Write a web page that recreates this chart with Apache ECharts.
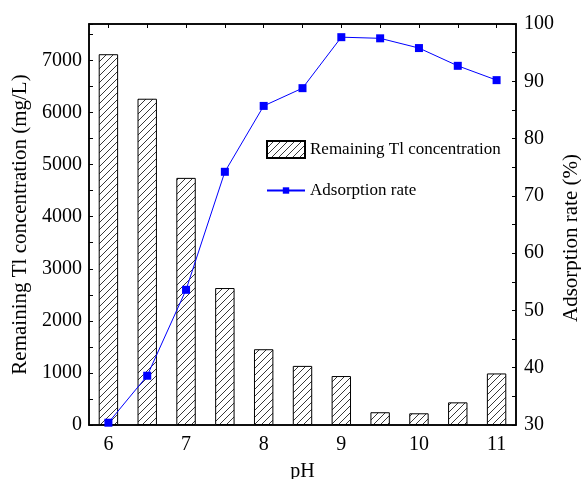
<!DOCTYPE html>
<html>
<head>
<meta charset="utf-8">
<script src="https://cdn.jsdelivr.net/npm/echarts@6/dist/echarts.min.js"></script>
<style>html,body{margin:0;padding:0;background:#fff;}#c{width:581px;height:479px;}</style>
</head>
<body>
<div id="c"></div>
<script>
var phLabels = ['6','6.5','7','7.5','8','8.5','9','9.5','10','10.5','11'];
var remainingTl = [7120, 6265, 4745, 2630, 1455, 1135, 940, 245, 225, 435, 990];
var adsorptionRate = [30.4, 38.6, 53.6, 74.2, 85.7, 88.8, 97.7, 97.5, 95.8, 92.7, 90.2];
var leftTicks = [0, 1000, 2000, 3000, 4000, 5000, 6000, 7000];
var rightTicks = [30, 40, 50, 60, 70, 80, 90, 100];
var rightTitle = 'Adsorption rate (%)';

var FONT = 'Liberation Serif';
function hatch() {
  var c = document.createElement('canvas');
  c.width = 7; c.height = 7;
  var g = c.getContext('2d');
  g.fillStyle = '#fff'; g.fillRect(0, 0, 7, 7);
  g.strokeStyle = '#222'; g.lineWidth = 0.9;
  g.beginPath();
  g.moveTo(-1, 8); g.lineTo(8, -1);
  g.moveTo(-1, 1); g.lineTo(1, -1);
  g.moveTo(6, 8); g.lineTo(8, 6);
  g.stroke();
  return c;
}
var chart = echarts.init(document.getElementById('c'), null, {renderer: 'canvas'});
var axisLineStyle = {color: '#000', width: 1.5};
chart.setOption({
  animation: false,
  backgroundColor: '#fff',
  textStyle: {fontFamily: FONT, color: '#000'},
  grid: {left: 89, right: 65, top: 24, bottom: 54, containLabel: false, outerBoundsMode: 'none',
    show: true, borderColor: '#000', borderWidth: 1.5, backgroundColor: 'transparent'},
  graphic: [{
    type: 'text', x: 571, y: 238, rotation: Math.PI / 2, z: 10,
    style: {text: rightTitle, font: '21px "Liberation Serif"', fill: '#000', align: 'center', verticalAlign: 'middle'}
  }],
  legend: [{
    left: 266, top: 140, padding: 0, itemWidth: 38, itemHeight: 17,
    textStyle: {fontFamily: FONT, fontSize: 17, color: '#000'},
    data: [{name: 'Remaining Tl concentration', icon: 'rect'}]
  }, {
    left: 266, top: 182, padding: 0, itemWidth: 38, itemHeight: 8,
    textStyle: {fontFamily: FONT, fontSize: 17, color: '#000'},
    data: ['Adsorption rate']
  }],
  xAxis: [{
    type: 'category', data: phLabels, position: 'bottom', boundaryGap: true,
    name: 'pH', nameLocation: 'middle', nameGap: 37,
    nameTextStyle: {fontFamily: FONT, fontSize: 20, color: '#000'},
    axisLine: {onZero: false, lineStyle: axisLineStyle},
    axisTick: {show: true, inside: true, alignWithLabel: true, interval: 0, length: 4, lineStyle: {color: '#000'}},
    axisLabel: {interval: 1, margin: 10, fontFamily: FONT, fontSize: 20, color: '#000'},
    splitLine: {show: false}
  }, {
    type: 'category', data: phLabels, position: 'top', boundaryGap: true,
    axisLine: {onZero: false, lineStyle: axisLineStyle},
    axisTick: {show: true, inside: true, alignWithLabel: true, interval: 0, length: 4, lineStyle: {color: '#000'}},
    axisLabel: {show: false},
    splitLine: {show: false}
  }],
  yAxis: [{
    type: 'value', min: 0, max: 7700, interval: 500, position: 'left',
    name: 'Remaining Tl concentration (mg/L)', nameLocation: 'middle', nameGap: 54, nameRotate: 90,
    nameTextStyle: {fontFamily: FONT, fontSize: 21, color: '#000'},
    axisLine: {show: true, onZero: false, lineStyle: axisLineStyle},
    axisTick: {show: true, inside: true, length: 4, lineStyle: {color: '#000'}},
    axisLabel: {margin: 7, fontFamily: FONT, fontSize: 20, color: '#000',
      formatter: function (v) { return leftTicks.indexOf(v) >= 0 ? String(v) : ''; }},
    splitLine: {show: false}
  }, {
    type: 'value', min: 30, max: 100, interval: 5, position: 'right',
    axisLine: {show: true, onZero: false, lineStyle: axisLineStyle},
    axisTick: {show: true, inside: true, length: 4, lineStyle: {color: '#000'}},
    axisLabel: {margin: 8, fontFamily: FONT, fontSize: 20, color: '#000',
      formatter: function (v) { return rightTicks.indexOf(v) >= 0 ? String(v) : ''; }},
    splitLine: {show: false}
  }],
  series: [{
    name: 'Remaining Tl concentration', type: 'bar', xAxisIndex: 0, yAxisIndex: 0,
    data: remainingTl, barWidth: '50%',
    itemStyle: {color: {image: hatch(), repeat: 'repeat'}, borderColor: '#000', borderWidth: 1}
  }, {
    name: 'Adsorption rate', type: 'line', xAxisIndex: 0, yAxisIndex: 1,
    data: adsorptionRate, symbol: 'rect', symbolSize: 8,
    lineStyle: {color: '#0000ff', width: 1},
    itemStyle: {color: '#0000ff'}
  }]
});
</script>
</body>
</html>
